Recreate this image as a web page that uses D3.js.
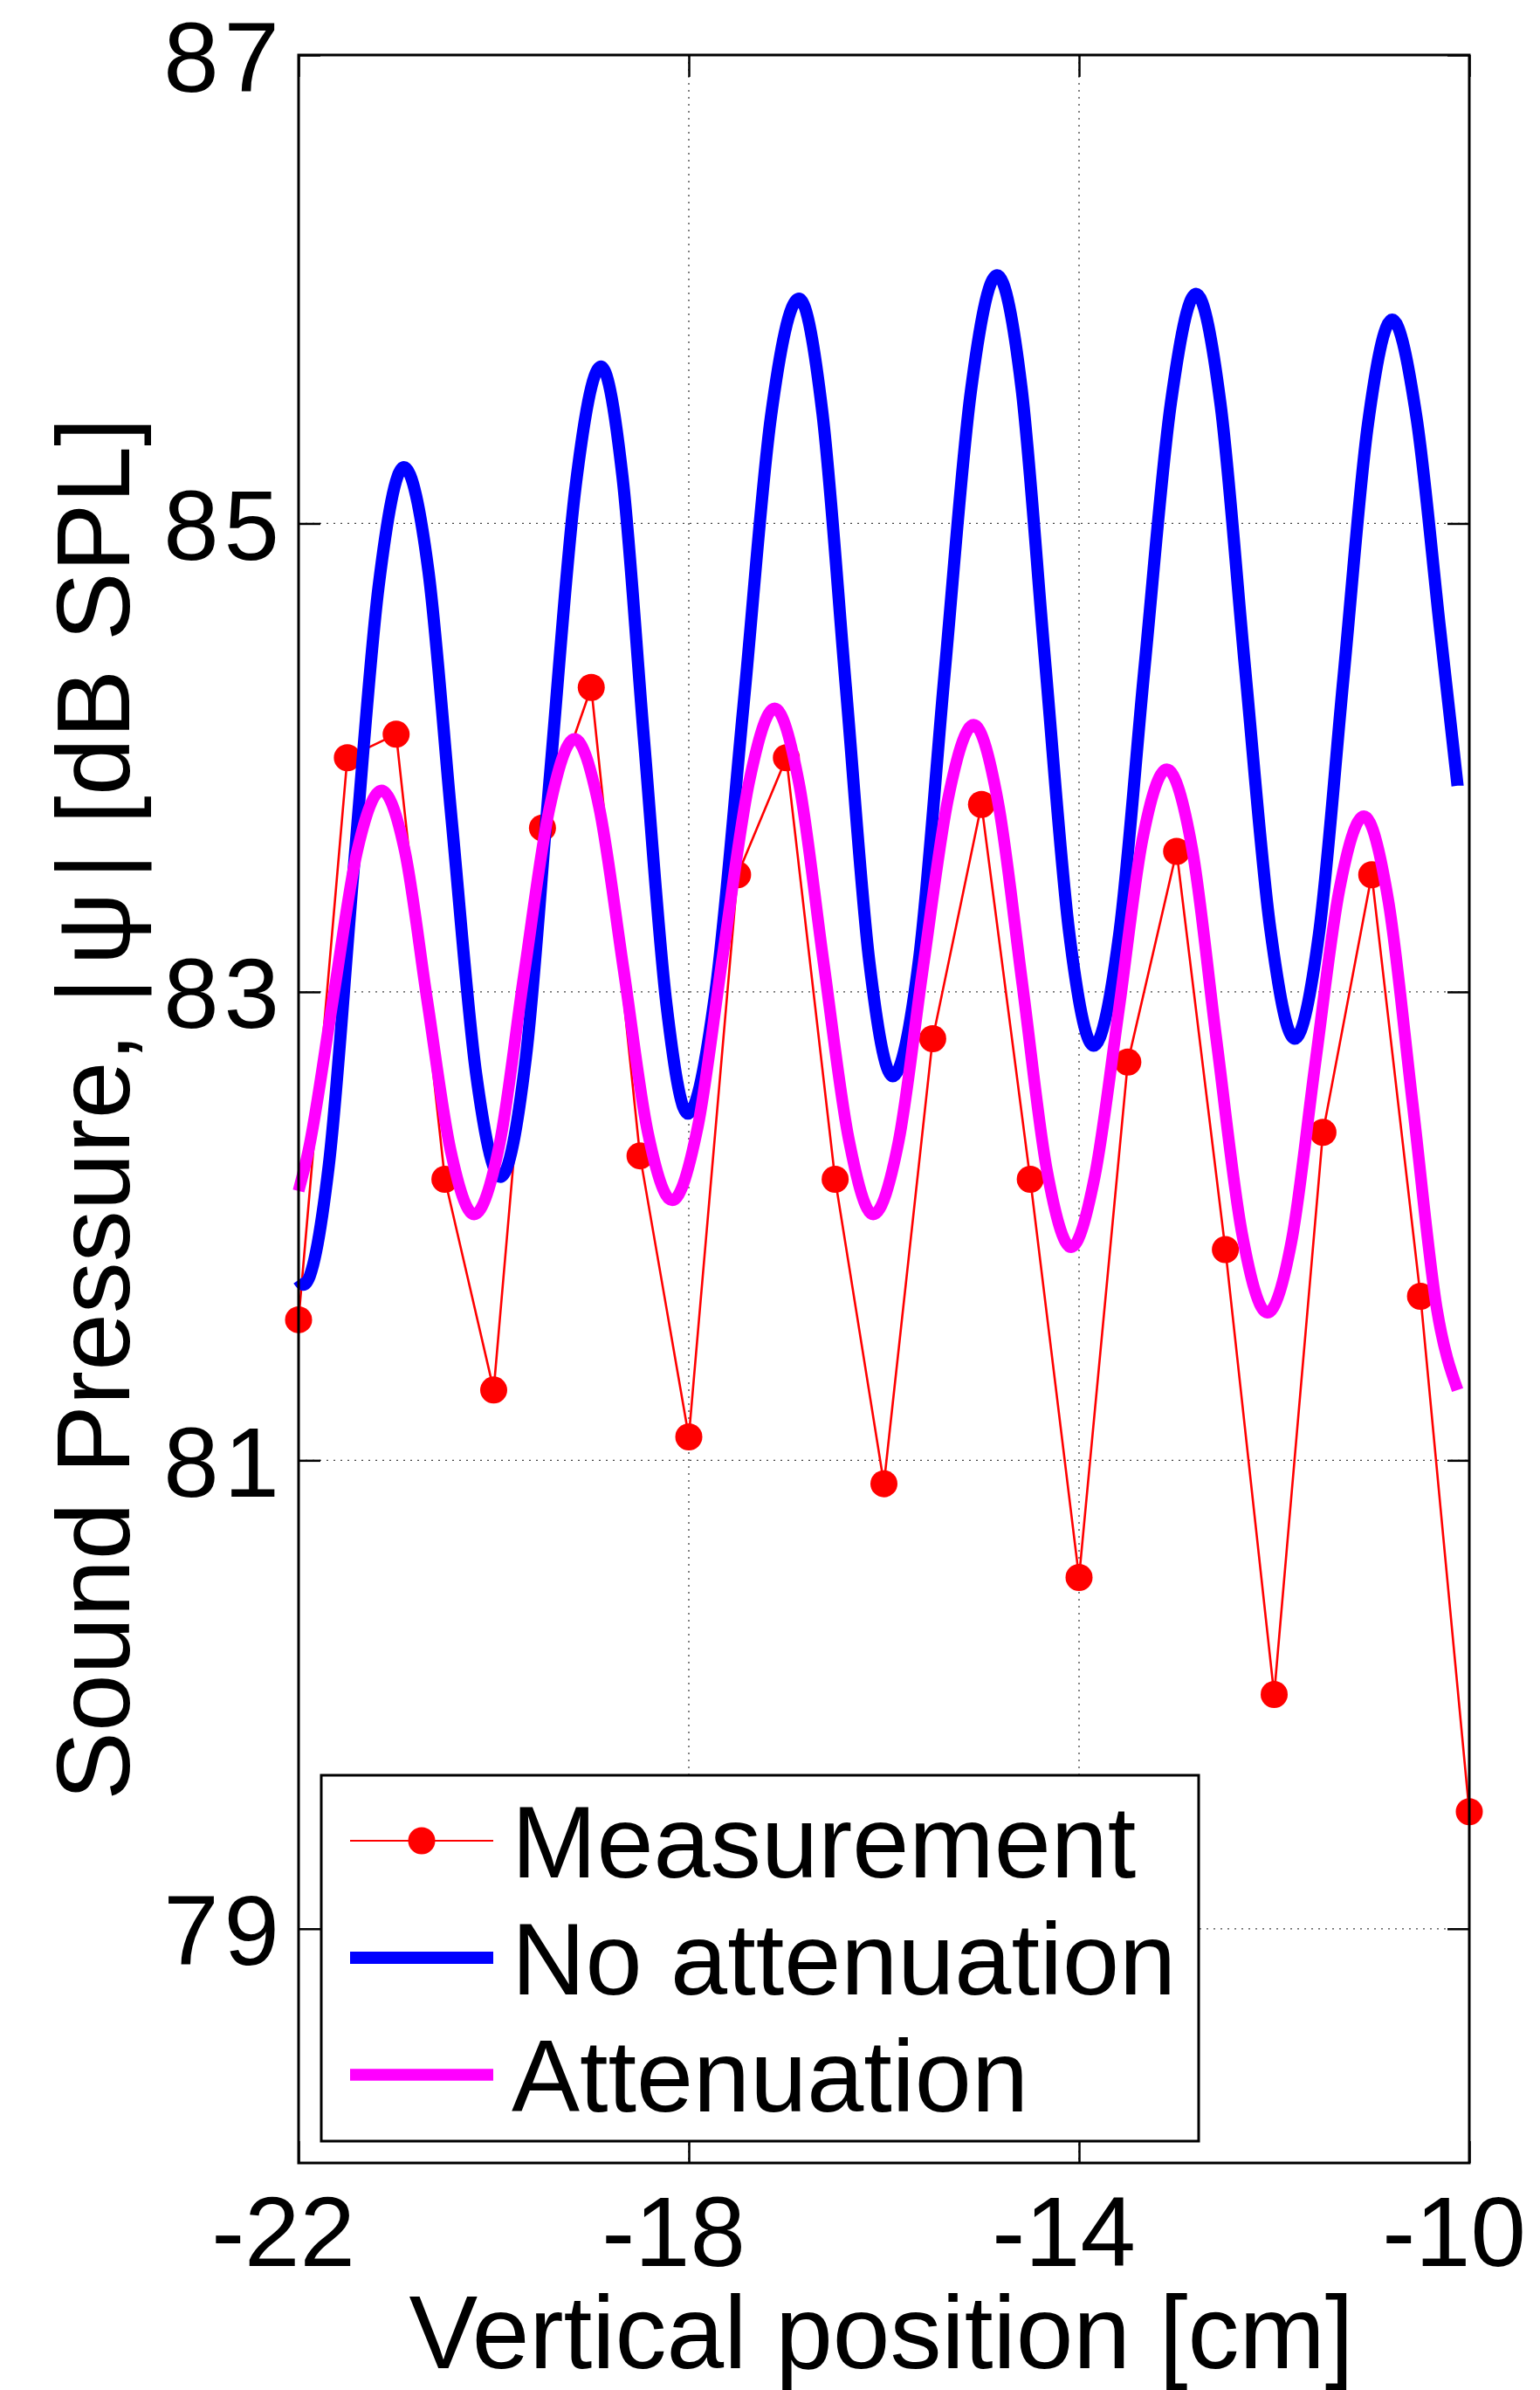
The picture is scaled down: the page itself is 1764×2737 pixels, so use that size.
<!DOCTYPE html>
<html>
<head>
<meta charset="utf-8">
<script src="https://cdn.jsdelivr.net/npm/d3@7"></script>
<style>
  body { margin: 0; background: #ffffff; }
  svg { display: block; }
</style>
</head>
<body>
<svg id="chart" width="1764" height="2737"></svg>
<script>
// ---------------- data ----------------
const xDomain = [-22, -10];
const yDomain = [78, 87];
const xTicks = [-22, -18, -14, -10];
const yTicks = [79, 81, 83, 85, 87];
const xLabel = "Vertical position [cm]";
const seriesNames = ["Measurement", "No attenuation", "Attenuation"];

// Measurement (red markers)
const measX = [-22, -21.5, -21, -20.5, -20, -19.5, -19, -18.5, -18, -17.5, -17, -16.5, -16,
               -15.5, -15, -14.5, -14, -13.5, -13, -12.5, -12, -11.5, -11, -10.5, -10];
const measY = [81.6, 84.0, 84.1, 82.2, 81.3, 83.7, 84.3, 82.3, 81.1, 83.5, 84.0, 82.2, 80.9,
               82.8, 83.8, 82.2, 80.5, 82.7, 83.6, 81.9, 80.0, 82.4, 83.5, 81.7, 79.5];

// No attenuation (blue curve)
const noAttX = [-22.00, -21.95, -21.69, -21.44, -21.18, -20.92, -20.67, -20.43, -20.18, -19.93,
                -19.67, -19.42, -19.16, -18.90, -18.68, -18.46, -18.23, -18.01, -17.73, -17.44,
                -17.16, -16.87, -16.63, -16.39, -16.15, -15.91, -15.64, -15.38, -15.11, -14.84,
                -14.59, -14.35, -14.10, -13.85, -13.59, -13.33, -13.06, -12.80, -12.55, -12.30,
                -12.04, -11.79, -11.54, -11.29, -11.04, -10.79, -10.54, -10.30, -10.12];
const noAttY = [81.77, 81.75, 82.26, 83.50, 84.73, 85.24, 84.80, 83.73, 82.65, 82.21,
                82.72, 83.94, 85.16, 85.67, 85.20, 84.08, 82.95, 82.48, 82.99, 84.22,
                85.45, 85.96, 85.47, 84.30, 83.13, 82.64, 83.14, 84.35, 85.56, 86.06,
                85.58, 84.42, 83.25, 82.77, 83.24, 84.38, 85.51, 85.98, 85.51, 84.39,
                83.27, 82.80, 83.25, 84.34, 85.42, 85.87, 85.45, 84.55, 83.88];

// Attenuation (magenta curve)
const attX = [-22.00, -21.90, -21.65, -21.40, -21.15, -20.91, -20.68, -20.44, -20.20, -19.94,
              -19.69, -19.43, -19.17, -18.92, -18.67, -18.42, -18.17, -17.91, -17.65, -17.38,
              -17.12, -16.87, -16.62, -16.36, -16.11, -15.85, -15.60, -15.34, -15.08, -14.83,
              -14.58, -14.33, -14.08, -13.84, -13.59, -13.35, -13.10, -12.84, -12.59, -12.33,
              -12.07, -11.82, -11.58, -11.33, -11.08, -10.83, -10.58, -10.33, -10.12];
const attY = [82.15, 82.32, 82.96, 83.60, 83.86, 83.60, 82.96, 82.32, 82.05, 82.35,
              83.07, 83.78, 84.08, 83.79, 83.10, 82.40, 82.11, 82.42, 83.16, 83.90,
              84.21, 83.89, 83.13, 82.37, 82.05, 82.36, 83.10, 83.83, 84.14, 83.81,
              83.03, 82.24, 81.91, 82.21, 82.93, 83.65, 83.95, 83.61, 82.79, 81.97,
              81.63, 81.94, 82.69, 83.44, 83.75, 83.39, 82.52, 81.64, 81.30];

// ---------------- layout & style ----------------
const FONT = "'Liberation Sans', Arial, Helvetica, sans-serif";
const plot = { left: 342, right: 1683, top: 63, bottom: 2477 };
const colors = { meas: "#ff0000", noAtt: "#0000ff", att: "#ff00ff" };

const svg = d3.select("#chart");
svg.append("rect").attr("width", 1764).attr("height", 2737).attr("fill", "#fff");

const x = d3.scaleLinear().domain(xDomain).range([plot.left, plot.right]);
const y = d3.scaleLinear().domain(yDomain).range([plot.bottom, plot.top]);
const fmt = d => String(d);   // plain hyphen-minus, as in the reference

// grid (dotted)
const grid = svg.append("g").attr("stroke", "#444").attr("stroke-width", 1.3)
  .attr("stroke-dasharray", "2,6");
grid.selectAll("line.gy").data(yTicks.filter(v => v > yDomain[0] && v < yDomain[1]))
  .join("line").attr("class", "gy")
  .attr("x1", plot.left).attr("x2", plot.right)
  .attr("y1", d => y(d)).attr("y2", d => y(d));
grid.selectAll("line.gx").data(xTicks.filter(v => v > xDomain[0] && v < xDomain[1]))
  .join("line").attr("class", "gx")
  .attr("y1", plot.top).attr("y2", plot.bottom)
  .attr("x1", d => x(d)).attr("x2", d => x(d));

// axes with inward ticks
function styleAxis(g) {
  g.select(".domain").remove();
  g.selectAll(".tick line").attr("stroke", "#000").attr("stroke-width", 2.5);
  g.selectAll("text").attr("font-family", FONT).attr("fill", "#000");
}
const TICK = 25;
svg.append("g").attr("transform", `translate(${plot.left},0)`)
  .call(d3.axisLeft(y).tickValues(yTicks).tickSize(-TICK).tickPadding(16).tickFormat(fmt))
  .call(styleAxis)
  .call(g => g.selectAll("text").attr("font-size", 114).attr("dy", "0.36em").attr("letter-spacing", 6));
svg.append("g").attr("transform", `translate(${plot.right},0)`)
  .call(d3.axisRight(y).tickValues(yTicks).tickSize(-TICK).tickFormat(""))
  .call(styleAxis);
svg.append("g").attr("transform", `translate(0,${plot.bottom})`)
  .call(d3.axisBottom(x).tickValues(xTicks).tickSize(-TICK).tickFormat(fmt))
  .call(styleAxis)
  .call(g => g.selectAll("text").attr("font-size", 114).attr("y", 118).attr("dy", 0).attr("dx", -18));
svg.append("g").attr("transform", `translate(0,${plot.top})`)
  .call(d3.axisTop(x).tickValues(xTicks).tickSize(-TICK).tickFormat(""))
  .call(styleAxis);

// series
const measData = measX.map((d, i) => [d, measY[i]]);
const noAttData = noAttX.map((d, i) => [d, noAttY[i]]);
const attData = attX.map((d, i) => [d, attY[i]]);

const lineStraight = d3.line().x(d => x(d[0])).y(d => y(d[1]));
const lineSmooth = d3.line().x(d => x(d[0])).y(d => y(d[1])).curve(d3.curveMonotoneX);

svg.append("path").datum(measData).attr("d", lineStraight)
  .attr("fill", "none").attr("stroke", colors.meas).attr("stroke-width", 2.6)
  .attr("stroke-linejoin", "round");
svg.append("g").selectAll("circle").data(measData).join("circle")
  .attr("cx", d => x(d[0])).attr("cy", d => y(d[1])).attr("r", 15.5)
  .attr("fill", colors.meas);

svg.append("path").datum(noAttData).attr("d", lineSmooth)
  .attr("fill", "none").attr("stroke", colors.noAtt).attr("stroke-width", 14)
  .attr("stroke-linejoin", "round");
svg.append("path").datum(attData).attr("d", lineSmooth)
  .attr("fill", "none").attr("stroke", colors.att).attr("stroke-width", 13.5)
  .attr("stroke-linejoin", "round");

// frame
svg.append("rect").attr("x", plot.left).attr("y", plot.top)
  .attr("width", plot.right - plot.left).attr("height", plot.bottom - plot.top)
  .attr("fill", "none").attr("stroke", "#000").attr("stroke-width", 3);

// legend
const lg = { x0: 368, y0: 2033, x1: 1373, y1: 2452 };
const legend = svg.append("g");
legend.append("rect").attr("x", lg.x0).attr("y", lg.y0)
  .attr("width", lg.x1 - lg.x0).attr("height", lg.y1 - lg.y0)
  .attr("fill", "#fff").attr("stroke", "#000").attr("stroke-width", 3);
const rows = [
  { name: seriesNames[0], color: colors.meas, w: 2.2, marker: true, base: 2150 },
  { name: seriesNames[1], color: colors.noAtt, w: 14, marker: false, base: 2284 },
  { name: seriesNames[2], color: colors.att, w: 13.5, marker: false, base: 2418 }
];
rows.forEach(r => {
  const ly = r.base - 42;
  legend.append("line").attr("x1", 401).attr("x2", 565).attr("y1", ly).attr("y2", ly)
    .attr("stroke", r.color).attr("stroke-width", r.w);
  if (r.marker) legend.append("circle").attr("cx", 483).attr("cy", ly).attr("r", 15.5).attr("fill", r.color);
  legend.append("text").attr("x", 586).attr("y", r.base)
    .attr("font-family", FONT).attr("font-size", 117).attr("fill", "#000").text(r.name);
});

// axis titles
svg.append("text").attr("x", (plot.left + plot.right) / 2 - 3).attr("y", 2712)
  .attr("text-anchor", "middle").attr("font-family", FONT).attr("font-size", 118)
  .attr("fill", "#000").text(xLabel);

const yl = svg.append("text")
  .attr("transform", `translate(148,${(plot.top + plot.bottom) / 2}) rotate(-90)`)
  .attr("text-anchor", "middle").attr("font-family", FONT).attr("font-size", 118).attr("fill", "#000");
yl.append("tspan").text("Sound Pressure, |");
yl.append("tspan").attr("dx", 14).text("ψ");
yl.append("tspan").attr("dx", 14).text("| [dB SPL]");
</script>
</body>
</html>
